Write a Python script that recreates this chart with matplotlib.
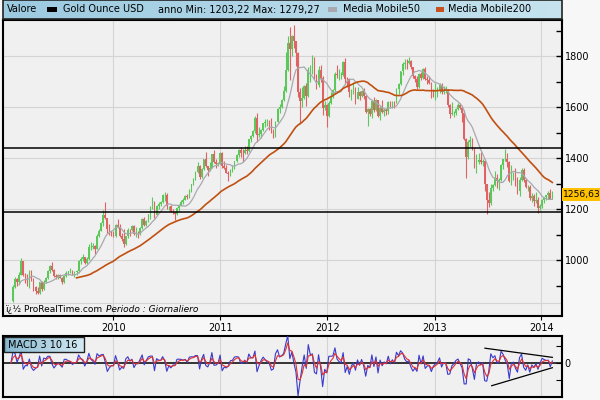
import numpy as np
import pandas as pd
import matplotlib
matplotlib.use("Agg")
import matplotlib.pyplot as plt
import matplotlib.dates as mdates
import matplotlib.transforms as mtransforms
from matplotlib.patches import Rectangle
from matplotlib.ticker import FixedLocator, NullFormatter
from matplotlib.colors import LinearSegmentedColormap

plt.rcParams['font.family'] = ['DejaVu Sans']

# ---------------- data (weekly bars) ----------------
first_week = '2009-01-16'

close_2009 = [838, 895, 925, 912, 942, 995, 942, 940, 930, 955, 925, 895, 880, 870, 912, 885, 915, 928, 955, 978,
              962, 938, 935, 940, 930, 912, 938, 950, 955, 958, 948, 952, 955, 995, 1005, 1010, 990, 1003, 1050, 1052,
              1055, 1045, 1095, 1115, 1145, 1175, 1165, 1120, 1110, 1105]
high_2009 = [865, 902, 935, 930, 952, 1006, 998, 948, 945, 962, 960, 930, 900, 893, 915, 916, 920, 932, 960, 980,
             992, 965, 944, 946, 945, 932, 942, 957, 958, 970, 960, 955, 960, 999, 1010, 1025, 1012, 1010, 1062, 1070,
             1066, 1060, 1101, 1120, 1150, 1195, 1226, 1166, 1140, 1112]
low_2009 = [810, 835, 890, 900, 905, 940, 938, 910, 900, 890, 918, 880, 865, 865, 868, 880, 883, 910, 925, 950,
            955, 935, 925, 926, 928, 905, 910, 935, 940, 950, 940, 935, 940, 950, 985, 995, 985, 985, 1000, 1040,
            1045, 1025, 1045, 1090, 1113, 1135, 1162, 1105, 1100, 1095]

close_2010 = [1096, 1138, 1130, 1093, 1083, 1063, 1093, 1118, 1117, 1133, 1103, 1107, 1105, 1125, 1160, 1137, 1153,
              1180, 1205, 1228, 1177, 1212, 1220, 1228, 1256, 1256, 1210, 1210, 1190, 1188, 1180, 1203, 1216, 1228,
              1236, 1250, 1246, 1275, 1297, 1317, 1345, 1370, 1327, 1358, 1395, 1368, 1352, 1362, 1414, 1385, 1378,
              1380, 1421]
high_2010 = [1112, 1140, 1161, 1140, 1105, 1122, 1096, 1124, 1122, 1139, 1137, 1128, 1112, 1130, 1163, 1169, 1155,
             1181, 1210, 1248, 1230, 1217, 1228, 1232, 1259, 1265, 1262, 1212, 1215, 1200, 1190, 1208, 1218, 1235,
             1242, 1253, 1258, 1278, 1300, 1320, 1350, 1386, 1372, 1360, 1398, 1424, 1370, 1385, 1416, 1431, 1395,
             1385, 1425]
low_2010 = [1090, 1092, 1125, 1090, 1075, 1050, 1058, 1088, 1095, 1112, 1100, 1090, 1088, 1100, 1123, 1133, 1132,
            1150, 1162, 1201, 1166, 1175, 1200, 1210, 1222, 1233, 1200, 1195, 1187, 1180, 1157, 1177, 1192, 1210,
            1220, 1235, 1240, 1245, 1268, 1295, 1312, 1343, 1316, 1320, 1353, 1365, 1330, 1350, 1360, 1380, 1360,
            1370, 1376]

close_2011 = [1368, 1360, 1342, 1336, 1352, 1362, 1388, 1410, 1430, 1420, 1418, 1433, 1428, 1474, 1486, 1504, 1556,
              1491, 1493, 1510, 1536, 1542, 1542, 1538, 1502, 1484, 1541, 1593, 1601, 1628, 1664, 1745, 1852, 1828,
              1877, 1857, 1811, 1658, 1624, 1636, 1683, 1642, 1745, 1755, 1788, 1725, 1685, 1746, 1712, 1598, 1606,
              1566]
high_2011 = [1424, 1388, 1374, 1348, 1358, 1372, 1390, 1416, 1437, 1445, 1436, 1447, 1448, 1476, 1489, 1510, 1564,
             1577, 1522, 1515, 1537, 1551, 1552, 1550, 1558, 1512, 1545, 1595, 1610, 1630, 1682, 1814, 1880, 1912,
             1884, 1921, 1860, 1815, 1673, 1678, 1688, 1695, 1758, 1765, 1802, 1795, 1730, 1762, 1763, 1720, 1625,
             1612]
low_2011 = [1360, 1358, 1340, 1310, 1330, 1345, 1358, 1385, 1405, 1405, 1383, 1415, 1415, 1425, 1463, 1483, 1500,
            1462, 1482, 1480, 1505, 1520, 1525, 1510, 1500, 1478, 1482, 1540, 1578, 1597, 1625, 1660, 1742, 1705,
            1800, 1830, 1760, 1640, 1535, 1600, 1630, 1605, 1638, 1700, 1730, 1710, 1670, 1680, 1700, 1570, 1590,
            1523]

close_2012 = [1617, 1640, 1665, 1730, 1725, 1725, 1725, 1777, 1711, 1710, 1658, 1662, 1668, 1631, 1659, 1642, 1664,
              1645, 1582, 1592, 1573, 1622, 1590, 1627, 1566, 1598, 1579, 1589, 1583, 1619, 1603, 1621, 1616, 1671,
              1690, 1740, 1770, 1773, 1772, 1781, 1758, 1723, 1711, 1677, 1731, 1713, 1751, 1711, 1705, 1696, 1657,
              1656]
high_2012 = [1625, 1660, 1672, 1737, 1763, 1750, 1737, 1781, 1792, 1718, 1713, 1672, 1698, 1680, 1680, 1662, 1668,
             1676, 1648, 1598, 1596, 1627, 1640, 1630, 1628, 1605, 1626, 1595, 1597, 1625, 1625, 1624, 1624, 1675,
             1694, 1741, 1777, 1789, 1787, 1796, 1785, 1757, 1727, 1720, 1734, 1738, 1753, 1755, 1723, 1721, 1698,
             1672]
low_2012 = [1560, 1610, 1635, 1650, 1715, 1705, 1710, 1720, 1690, 1680, 1640, 1627, 1650, 1612, 1630, 1626, 1640,
            1630, 1578, 1527, 1565, 1555, 1580, 1585, 1562, 1550, 1575, 1565, 1570, 1572, 1595, 1598, 1595, 1615,
            1650, 1685, 1725, 1750, 1750, 1768, 1750, 1715, 1699, 1672, 1675, 1705, 1710, 1705, 1690, 1690, 1636,
            1640]

close_2013 = [1657, 1662, 1687, 1658, 1667, 1667, 1609, 1572, 1576, 1578, 1592, 1608, 1598, 1575, 1476, 1405, 1462,
              1470, 1436, 1362, 1386, 1393, 1383, 1388, 1297, 1234, 1223, 1284, 1295, 1323, 1310, 1313, 1372, 1396,
              1396, 1386, 1308, 1333, 1338, 1310, 1272, 1315, 1352, 1315, 1285, 1288, 1244, 1250, 1230, 1235, 1204,
              1213]
high_2013 = [1695, 1678, 1694, 1696, 1684, 1682, 1670, 1612, 1619, 1583, 1597, 1616, 1615, 1605, 1590, 1480, 1470,
             1487, 1478, 1440, 1416, 1420, 1425, 1397, 1397, 1300, 1267, 1298, 1299, 1348, 1336, 1323, 1378, 1397,
             1434, 1419, 1388, 1372, 1345, 1362, 1324, 1327, 1361, 1361, 1321, 1296, 1294, 1262, 1257, 1266, 1247,
             1218]
low_2013 = [1627, 1640, 1655, 1650, 1650, 1655, 1600, 1555, 1570, 1562, 1570, 1590, 1592, 1540, 1470, 1321, 1395,
            1445, 1432, 1359, 1340, 1375, 1375, 1368, 1270, 1180, 1208, 1215, 1270, 1290, 1282, 1275, 1308, 1355,
            1390, 1366, 1305, 1295, 1314, 1292, 1260, 1250, 1310, 1305, 1282, 1270, 1235, 1228, 1210, 1222, 1186,
            1195]

close_2014 = [1237, 1247, 1254, 1264, 1240, 1256.63]
high_2014 = [1240, 1249, 1256, 1270, 1279, 1270]
low_2014 = [1203, 1225, 1237, 1238, 1238, 1238]

support_levels = [1438, 1187]
y_tick_values = [1000, 1200, 1400, 1600, 1800]
y_minor_values = [900, 1000, 1100, 1200, 1300, 1400, 1500, 1600, 1700, 1800, 1900]
year_ticks = ['2010-01-01', '2011-01-01', '2012-01-01', '2013-01-01', '2014-01-01']
last_label = '1256,63'

# MACD trend lines: dates and heights (fraction of the MACD panel)
macd_upper_dates = ['2013-06-22', '2014-02-07']
macd_upper_frac = [0.80, 0.65]
macd_lower_dates = ['2013-07-15', '2014-02-07']
macd_lower_frac = [0.185, 0.48]

MA_SHORT_DAYS, MA_LONG_DAYS = 50, 200
MACD_FAST, MACD_SLOW, MACD_SIGNAL = 3, 10, 16
DAYS_PER_BAR = 5

header_items = ['Valore', 'Gold Ounce USD', 'anno Min: 1203,22 Max: 1279,27', 'Media Mobile50', 'Media Mobile200']

# ---------------- assemble ----------------
closes = np.array(close_2009 + close_2010 + close_2011 + close_2012 + close_2013 + close_2014, dtype=float)
highs = np.array(high_2009 + high_2010 + high_2011 + high_2012 + high_2013 + high_2014, dtype=float)
lows = np.array(low_2009 + low_2010 + low_2011 + low_2012 + low_2013 + low_2014, dtype=float)
dates = pd.date_range(first_week, periods=len(closes), freq='W-FRI')
xs = mdates.date2num(dates)
opens = np.r_[np.nan, closes[:-1]]

s = pd.Series(closes, index=dates)
n_short = MA_SHORT_DAYS // DAYS_PER_BAR
n_long = MA_LONG_DAYS // DAYS_PER_BAR
ma_short = s.rolling(n_short, min_periods=5).mean()
ma_long = s.rolling(n_long, min_periods=33).mean()

def alpha(days):
    return min(1.0, 2.0 / (days / DAYS_PER_BAR + 1.0))

macd = s.ewm(alpha=alpha(MACD_FAST), adjust=False).mean() - s.ewm(alpha=alpha(MACD_SLOW), adjust=False).mean()
signal = macd.ewm(alpha=alpha(MACD_SIGNAL), adjust=False).mean()

# ---------------- figure ----------------
W, H = 600, 400
fig = plt.figure(figsize=(6, 4), dpi=100, facecolor='#f7f7f7')

def fr(x0, y0, x1, y1):
    return [x0 / W, 1 - y1 / H, (x1 - x0) / W, (y1 - y0) / H]

ax = fig.add_axes(fr(3, 20, 562, 316))
mx = fig.add_axes(fr(3, 336, 562, 397), sharex=ax)
hd = fig.add_axes(fr(3, 0, 562, 19))

GREEN = '#5cc85c'
RED = '#e06262'

ax.set_facecolor('#f0f0f0')
ax.set_axisbelow(True)
sel = ~np.isnan(opens)
up = closes >= opens
cols = np.where(up, GREEN, RED)
ax.vlines(xs[sel], lows[sel], highs[sel], colors=cols[sel], lw=0.8, zorder=2)
ax.bar(xs[sel], np.abs(closes - opens)[sel], bottom=np.minimum(opens, closes)[sel], width=5.5,
       color=cols[sel], linewidth=0, zorder=2)
ax.plot(xs, ma_short.values, color='#a8a8b0', lw=0.9, zorder=3)
ax.plot(xs, ma_long.values, color='#c05010', lw=1.2, zorder=3)
for lv in support_levels:
    ax.axhline(lv, color='black', lw=1.1, zorder=4)

ax.set_xlim(mdates.datestr2num('2008-12-20'), mdates.datestr2num('2014-03-12'))
ax.set_ylim(780.4, 1941.2)
ax.yaxis.tick_right()
ax.yaxis.set_major_locator(FixedLocator(y_tick_values))
ax.yaxis.set_minor_locator(FixedLocator(y_minor_values))
ax.yaxis.set_minor_formatter(NullFormatter())
ax.tick_params(axis='y', which='both', direction='in', length=4, width=1, labelsize=7, pad=2, right=True, left=False)
ax.xaxis.set_major_locator(FixedLocator(mdates.datestr2num(year_ticks)))
ax.xaxis.set_major_formatter(mdates.DateFormatter('%Y'))
ax.tick_params(axis='x', direction='out', length=3, labelsize=7, pad=2)
ax.grid(True, which='major', color='#d4d4d4', lw=0.8)
for sp in ax.spines.values():
    sp.set_color('black')
    sp.set_linewidth(1.5)

ax.plot([0, 1], [0.044, 0.044], transform=ax.transAxes, color='#d4d4d4', lw=0.8, zorder=1)
ax.text(2 / 559, 0.022, 'ï¿½ ProRealTime.com', transform=ax.transAxes, fontsize=6.5, va='center', ha='left')
ax.text(103 / 559, 0.022, 'Periodo : Giornaliero', transform=ax.transAxes, fontsize=6.5, va='center', ha='left',
        style='italic')

ax.annotate(last_label, xy=(1.0, closes[-1]), xycoords=('axes fraction', 'data'), xytext=(1, 0),
            textcoords='offset points', va='center', ha='left', fontsize=6.6,
            bbox=dict(boxstyle='square,pad=0.2', fc='#ffc000', ec='none'), annotation_clip=False)

# ---------------- MACD panel ----------------
mx.set_facecolor('#f0f0f0')
mx.set_axisbelow(True)
mx.plot(xs, macd.values, color='#3a3acc', lw=0.8, zorder=3)
mx.plot(xs, signal.values, color='#e03030', lw=0.8, zorder=3)
mx.axhline(0, color='black', lw=1.1, zorder=2)
neg = float(macd.min()) * 1.03
pos = -neg * 27 / 34
tk = -neg / 2
mx.set_ylim(neg, pos)
mx.yaxis.tick_right()
mx.set_yticks([-tk, 0, tk])
mx.set_yticklabels(['', '0', ''])
mx.tick_params(axis='y', direction='in', length=4, labelsize=7, pad=2)
mx.tick_params(axis='x', length=0, labelbottom=False)
mx.grid(True, axis='x', color='#d4d4d4', lw=0.8)
for sp in mx.spines.values():
    sp.set_color('black')
    sp.set_linewidth(1.5)
blend = mtransforms.blended_transform_factory(mx.transData, mx.transAxes)
mx.plot(mdates.datestr2num(macd_upper_dates), macd_upper_frac, transform=blend, color='black', lw=0.9, zorder=4)
mx.plot(mdates.datestr2num(macd_lower_dates), macd_lower_frac, transform=blend, color='black', lw=0.9, zorder=4)

cmap = LinearSegmentedColormap.from_list('hdr', ['#9ccae0', '#c6e3ef'])
lb = fig.add_axes(fr(4, 337, 84, 352))
lb.imshow(np.linspace(0, 1, 64)[None, :], cmap=LinearSegmentedColormap.from_list('lb', ['#86b8d0', '#d4eaf3']),
          aspect='auto', extent=[0, 1, 0, 1])
lb.set_xlim(0, 1); lb.set_ylim(0, 1); lb.axis('off')
lb.add_patch(Rectangle((0, 0), 1, 1, fill=False, ec='#222222', lw=1, transform=lb.transAxes, clip_on=False))
lb.text(4 / 80, 0.5, 'MACD 3 10 16', fontsize=7, va='center', ha='left')

# ---------------- header ----------------
hd.imshow(np.linspace(0, 1, 256)[None, :], cmap=cmap, aspect='auto', extent=[0, 1, 0, 1])
hd.set_xlim(0, 1); hd.set_ylim(0, 1); hd.axis('off')
hd.add_patch(Rectangle((0, 0), 1, 1, fill=False, ec='#222222', lw=1.2, transform=hd.transAxes, clip_on=False))

def hx(px):
    return (px - 3) / 559

hd.text(hx(7), 0.5, header_items[0], fontsize=7, va='center', ha='left')
hd.add_patch(Rectangle((hx(47), 0.38), hx(57) - hx(47), 0.24, fc='black', ec='none'))
hd.text(hx(63), 0.5, header_items[1], fontsize=7, va='center', ha='left')
hd.text(hx(158), 0.5, header_items[2], fontsize=7, va='center', ha='left')
hd.add_patch(Rectangle((hx(328), 0.38), hx(337) - hx(328), 0.24, fc='#a8a8b0', ec='none'))
hd.text(hx(343), 0.5, header_items[3], fontsize=7, va='center', ha='left')
hd.add_patch(Rectangle((hx(436), 0.38), hx(444) - hx(436), 0.24, fc='#c8501e', ec='none'))
hd.text(hx(448), 0.5, header_items[4], fontsize=7, va='center', ha='left')

fig.savefig('out.png', dpi=100, facecolor=fig.get_facecolor())
